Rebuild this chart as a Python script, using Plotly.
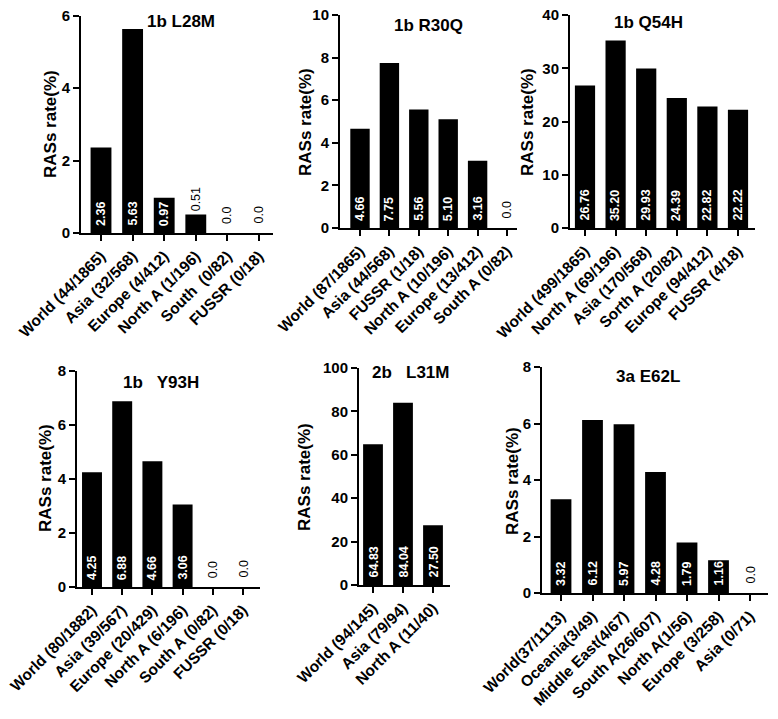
import plotly.graph_objects as go

W, H = 778, 719

# ---- data ----
titles = ["1b L28M", "1b R30Q", "1b Q54H", "1b   Y93H", "2b   L31M", "3a E62L"]

cats_l28m = ["World (44/1865)", "Asia (32/568)", "Europe (4/412)", "North A (1/196)", "South  (0/82)", "FUSSR (0/18)"]
vals_l28m = [2.36, 5.63, 0.97, 0.51, 0.0, 0.0]
lbls_l28m = ["2.36", "5.63", "0.97", "0.51", "0.0", "0.0"]

cats_r30q = ["World (87/1865)", "Asia (44/568)", "FUSSR (1/18)", "North A (10/196)", "Europe (13/412)", "South A (0/82)"]
vals_r30q = [4.66, 7.75, 5.56, 5.10, 3.16, 0.0]
lbls_r30q = ["4.66", "7.75", "5.56", "5.10", "3.16", "0.0"]

cats_q54h = ["World (499/1865)", "North A (69/196)", "Asia (170/568)", "Sorth A (20/82)", "Europe (94/412)", "FUSSR (4/18)"]
vals_q54h = [26.76, 35.20, 29.93, 24.39, 22.82, 22.22]
lbls_q54h = ["26.76", "35.20", "29.93", "24.39", "22.82", "22.22"]

cats_y93h = ["World (80/1882)", "Asia (39/567)", "Europe (20/429)", "North A (6/196)", "South A (0/82)", "FUSSR (0/18)"]
vals_y93h = [4.25, 6.88, 4.66, 3.06, 0.0, 0.0]
lbls_y93h = ["4.25", "6.88", "4.66", "3.06", "0.0", "0.0"]

cats_l31m = ["World (94/145)", "Asia (79/94)", "North A (11/40)"]
vals_l31m = [64.83, 84.04, 27.50]
lbls_l31m = ["64.83", "84.04", "27.50"]

cats_e62l = ["World(37/1113)", "Oceania(3/49)", "Middle East(4/67)", "South A(26/607)", "North A(1/56)", "Europe (3/258)", "Asia (0/71)"]
vals_e62l = [3.32, 6.12, 5.97, 4.28, 1.79, 1.16, 0.0]
lbls_e62l = ["3.32", "6.12", "5.97", "4.28", "1.79", "1.16", "0.0"]

y_max = [6, 10, 40, 8, 100, 8]
y_dtick = [2, 2, 10, 2, 20, 2]

panels = [
    (cats_l28m, vals_l28m, lbls_l28m),
    (cats_r30q, vals_r30q, lbls_r30q),
    (cats_q54h, vals_q54h, lbls_q54h),
    (cats_y93h, vals_y93h, lbls_y93h),
    (cats_l31m, vals_l31m, lbls_l31m),
    (cats_e62l, vals_e62l, lbls_e62l),
]

# ---- layout geometry (pixels) ----
# (left, right, top, bottom, first tick x, tick spacing)
geom = [
    (81, 273, 15.5, 233, 101, 31.6),
    (340, 517, 15, 228, 360, 29.4),
    (570, 755, 15, 228, 585, 30.6),
    (77, 260, 371, 587, 92, 30.2),
    (359, 450, 368, 585, 373, 30.0),
    (542, 768, 367, 593, 561, 31.5),
]
title_pos = [(181, 21), (428, 26), (648, 22), (161, 382), (410, 372), (648, 376)]
ytitle_pos = [(50, 124), (305, 122), (527, 122), (45, 478), (305, 477), (512, 481)]

FONT = "Liberation Sans, Arial, sans-serif"

fig = go.Figure()
annotations = []
layout = {}

for i, ((cats, vals, lbls), (l, r, t, b, t0, sp)) in enumerate(zip(panels, geom)):
    n = i + 1
    xa = "x" if n == 1 else f"x{n}"
    ya = "y" if n == 1 else f"y{n}"
    fig.add_trace(go.Bar(
        x=cats, y=vals, xaxis=xa, yaxis=ya, width=0.66,
        marker=dict(color="black", line=dict(width=0)),
        showlegend=False, hoverinfo="x+y",
    ))
    xr = [(l - t0) / sp, (r - t0) / sp]
    layout["xaxis" if n == 1 else f"xaxis{n}"] = dict(
        domain=[l / W, r / W], anchor=ya, range=xr, type="category",
        showline=True, linecolor="black", linewidth=2, automargin=False,
        ticks="outside", ticklen=6, tickwidth=2, tickcolor="black",
        tickangle=-45, showgrid=False, zeroline=False,
        tickfont=dict(family=FONT, size=15.5, color="black", weight="bold"),
    )
    layout["yaxis" if n == 1 else f"yaxis{n}"] = dict(
        domain=[1 - b / H, 1 - t / H], anchor=xa, range=[0, y_max[i]],
        dtick=y_dtick[i], showline=True, linecolor="black", linewidth=2, automargin=False,
        ticks="outside", ticklen=6, tickwidth=2, tickcolor="black",
        showgrid=False, zeroline=False,
        tickfont=dict(family=FONT, size=15, color="black", weight="bold"),
    )
    xref = xa
    yref = ya
    for c, v, s in zip(cats, vals, lbls):
        px_h = v / y_max[i] * (b - t)
        if v == 0:
            annotations.append(dict(x=c, y=0, xref=xref, yref=yref, text=s, showarrow=False,
                                    textangle=-90, yanchor="bottom", yshift=7,
                                    font=dict(family=FONT, size=12.5, color="black")))
        elif px_h < 30:
            annotations.append(dict(x=c, y=v, xref=xref, yref=yref, text=s, showarrow=False,
                                    textangle=-90, yanchor="bottom", yshift=1,
                                    font=dict(family=FONT, size=12.5, color="black")))
        else:
            annotations.append(dict(x=c, y=0, xref=xref, yref=yref, text=s, showarrow=False,
                                    textangle=-90, yanchor="bottom", yshift=5,
                                    font=dict(family=FONT, size=12.5, color="white", weight="bold")))
    tx, ty = title_pos[i]
    annotations.append(dict(x=tx / W, y=1 - ty / H, xref="paper", yref="paper", text=titles[i],
                            showarrow=False, xanchor="center", yanchor="middle",
                            font=dict(family=FONT, size=17, color="black", weight="bold")))
    yx, yy = ytitle_pos[i]
    annotations.append(dict(x=yx / W, y=1 - yy / H, xref="paper", yref="paper", text="RASs rate(%)",
                            showarrow=False, textangle=-90, xanchor="center", yanchor="middle",
                            font=dict(family=FONT, size=17, color="black", weight="bold")))

fig.update_layout(
    template="none",
    width=W, height=H, margin=dict(l=0, r=0, t=0, b=0, autoexpand=False),
    paper_bgcolor="white", plot_bgcolor="white",
    annotations=annotations, bargap=0.34,
    **layout,
)

fig.write_html(
    "out.html",
    config={"displayModeBar": False},
    post_script="document.body.style.margin='0';document.body.style.overflow='hidden';",
)
